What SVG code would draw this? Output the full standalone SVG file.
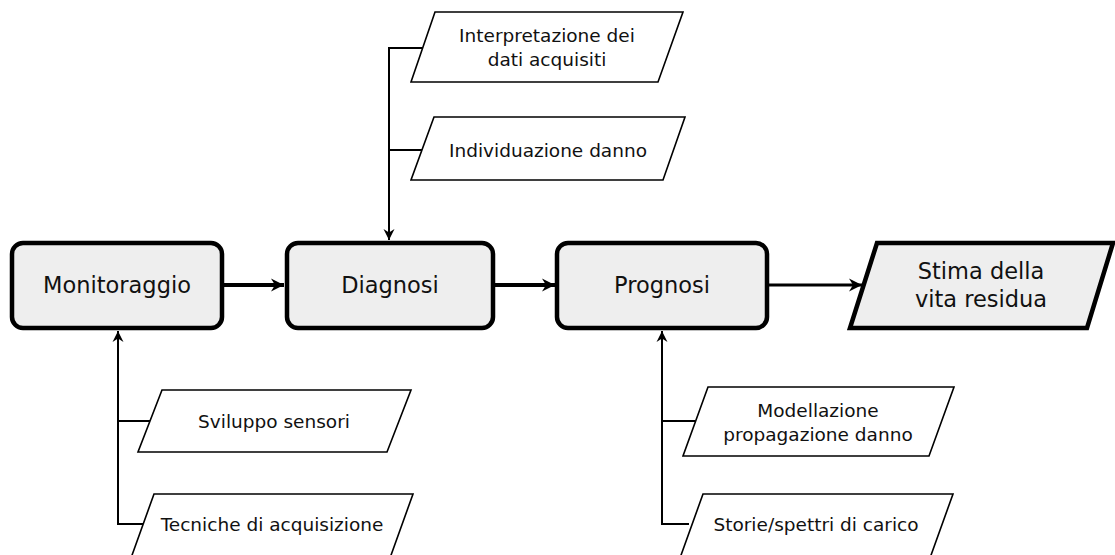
<svg xmlns="http://www.w3.org/2000/svg" width="1115" height="555" viewBox="0 0 1115 555">
<style>
.box{fill:#eeeeee;stroke:#000;stroke-width:4.5}
.par{fill:#fff;stroke:#000;stroke-width:1.6}
.big{font-family:"DejaVu Sans",sans-serif;font-size:22.5px;fill:#111;text-anchor:middle;dominant-baseline:central}
.sm{font-family:"DejaVu Sans",sans-serif;font-size:18.5px;fill:#111;text-anchor:middle;dominant-baseline:central}
.main{fill:none;stroke:#000;stroke-width:4}
.thin{fill:none;stroke:#000;stroke-width:2}
</style>
<defs>
<marker id="ah" markerUnits="userSpaceOnUse" markerWidth="16" markerHeight="16" viewBox="-14 -8 16 16" refX="0" refY="0" orient="auto">
<path d="M0,0 L-13,-6.5 L-9,0 L-13,6.5 Z" fill="#000"/>
</marker>
<marker id="ahs" markerUnits="userSpaceOnUse" markerWidth="14" markerHeight="14" viewBox="-12 -7 14 14" refX="0" refY="0" orient="auto">
<path d="M0,0 L-11,-5.5 L-7.5,0 L-11,5.5 Z" fill="#000"/>
</marker>
</defs>
<g id="connectors">
<line class="main" x1="222" y1="285" x2="284" y2="285" marker-end="url(#ah)"/>
<line class="main" x1="493" y1="285" x2="555" y2="285" marker-end="url(#ah)"/>
<line class="thin" style="stroke-width:3" x1="767" y1="285" x2="862" y2="285" marker-end="url(#ah)"/>
<polyline class="thin" points="424,48 389,48 389,240" marker-end="url(#ahs)"/>
<line class="thin" x1="389" y1="150" x2="422" y2="150"/>
<polyline class="thin" points="143,524 118,524 118,331" marker-end="url(#ahs)"/>
<line class="thin" x1="118" y1="421" x2="150" y2="421"/>
<polyline class="thin" points="689,524 662,524 662,331" marker-end="url(#ahs)"/>
<line class="thin" x1="662" y1="421" x2="695" y2="421"/>
</g>
<g id="monitoraggio">
<rect class="box" x="12" y="243" width="210" height="85" rx="11"/>
<text class="big" x="117" y="285">Monitoraggio</text>
</g>
<g id="diagnosi">
<rect class="box" x="287" y="243" width="206" height="85" rx="11"/>
<text class="big" x="390" y="285">Diagnosi</text>
</g>
<g id="prognosi">
<rect class="box" x="557" y="243" width="210" height="85" rx="11"/>
<text class="big" x="662" y="285">Prognosi</text>
</g>
<g id="stima">
<polygon class="box" points="877,243 1113,243 1087,328 850,328"/>
<text class="big" x="981" y="271">Stima della</text>
<text class="big" x="981" y="299">vita residua</text>
</g>
<g id="interpretazione">
<polygon class="par" points="435,12 683,12 658,82 411,82"/>
<text class="sm" x="547" y="35">Interpretazione dei</text>
<text class="sm" x="547" y="59">dati acquisiti</text>
</g>
<g id="individuazione">
<polygon class="par" points="434,117 685,117 663,180 411,180"/>
<text class="sm" x="548" y="150">Individuazione danno</text>
</g>
<g id="sviluppo">
<polygon class="par" points="162,390 411,390 387,452 138,452"/>
<text class="sm" x="274" y="421">Sviluppo sensori</text>
</g>
<g id="tecniche">
<polygon class="par" points="154,494 413,494 390,558 131,558"/>
<text class="sm" x="272" y="524">Tecniche di acquisizione</text>
</g>
<g id="modellazione">
<polygon class="par" points="708,387 954,387 929,456 683,456"/>
<text class="sm" x="818" y="410">Modellazione</text>
<text class="sm" x="818" y="434">propagazione danno</text>
</g>
<g id="storie">
<polygon class="par" points="703,494 953,494 930,558 680,558"/>
<text class="sm" x="816" y="524">Storie/spettri di carico</text>
</g>
</svg>
